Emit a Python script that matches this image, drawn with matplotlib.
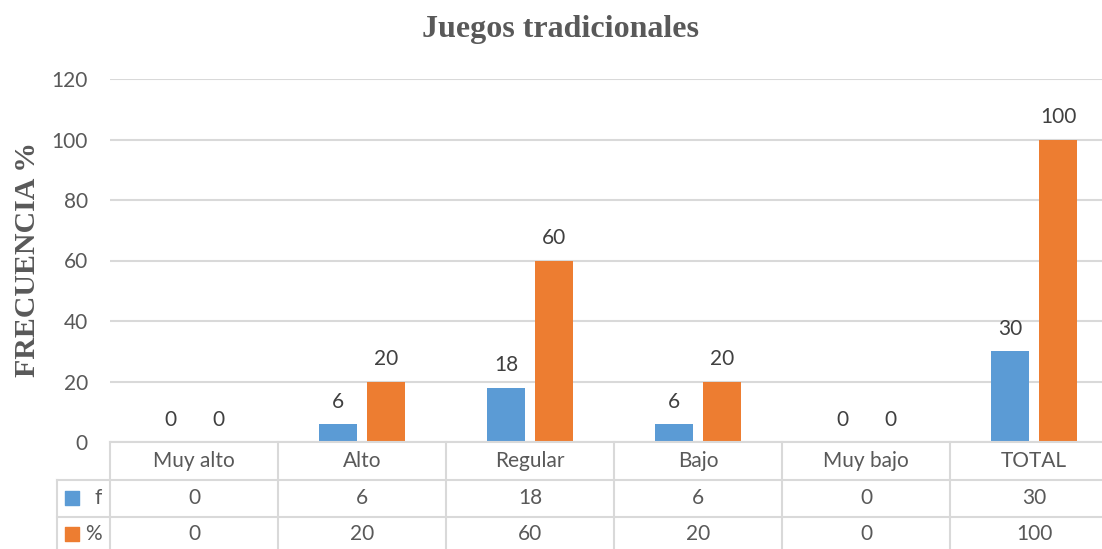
import numpy as np
import matplotlib.pyplot as plt

categories = ["Muy alto", "Alto", "Regular", "Bajo", "Muy bajo", "TOTAL"]
freq = [0, 6, 18, 6, 0, 30]
pct = [0, 20, 60, 20, 0, 100]
series_names = ["f", "%"]
colors = ["#5B9BD5", "#ED7D31"]
text_color = "#595959"
grid_color = "#D9D9D9"

W, H = 1102, 549
fig = plt.figure(figsize=(W / 100, H / 100), dpi=100)
plt.rcParams["font.family"] = ["Lato", "DejaVu Sans"]
fs = 15

# plot area in pixels (the last column runs past the image edge, as in the original)
x0, x1 = 110, 1118
y_top, y_base = 79, 442
ax = fig.add_axes([x0 / W, (H - y_base) / H, (x1 - x0) / W, (y_base - y_top) / H])

x = np.arange(len(categories))
bw = 0.226
off = 0.143
for vals, c, dx in [(freq, colors[0], -off), (pct, colors[1], off)]:
    ax.bar(x + dx, vals, width=bw, color=c, zorder=3)
    for xi, v in zip(x + dx, vals):
        ax.text(xi, v + 4, str(v), ha="center", va="bottom", fontsize=fs, color="#404040")

ax.set_xlim(-0.5, len(categories) - 0.5)
ax.set_ylim(0, 120)
ax.set_yticks(range(0, 121, 20))
ax.yaxis.grid(True, color=grid_color, lw=1.5, zorder=0)
ax.tick_params(axis="y", length=0, labelsize=fs, labelcolor=text_color, pad=16)
ax.set_xticks([])
for s in ax.spines.values():
    s.set_visible(False)

fig.text(560 / W, 1 - 30 / H, "Juegos tradicionales", ha="center", va="center",
         fontsize=23, fontweight="bold", family="Liberation Serif", color=text_color)
fig.text(28 / W, 1 - 260 / H, "FRECUENCIA %", ha="center", va="center", rotation=90,
         fontsize=21.5, fontweight="bold", family="Liberation Serif", color=text_color)

# data table under the plot
tab = fig.add_axes([x0 / W, 0, (x1 - x0) / W, (H - y_base) / H])
tab.set_xlim(-0.5, len(categories) - 0.5)
tab.set_ylim(H, y_base)  # pixel rows, top-down
tab.axis("off")
row_lines = [442, 480, 517]
row_mid = [461, 498.5, 534]
lw = 1.5
px = len(categories) / (x1 - x0)  # data units per pixel
left = -0.5 - (x0 - 57) * px
tab.plot([-0.5, 5.5], [row_lines[0]] * 2, color=grid_color, lw=lw, clip_on=False)
for yl in row_lines[1:]:
    tab.plot([left, 5.5], [yl, yl], color=grid_color, lw=lw, clip_on=False)
tab.plot([left, left], [row_lines[1], H], color=grid_color, lw=lw, clip_on=False)
for i in range(len(categories) + 1):
    tab.plot([i - 0.5, i - 0.5], [row_lines[0], H], color=grid_color, lw=lw, clip_on=False)
for i, cat in enumerate(categories):
    tab.text(i, row_mid[0], cat, ha="center", va="center", fontsize=fs, color=text_color)
    tab.text(i, row_mid[1], str(freq[i]), ha="center", va="center", fontsize=fs, color=text_color)
    tab.text(i, row_mid[2], str(pct[i]), ha="center", va="center", fontsize=fs, color=text_color)
for r, name, c in zip(row_mid[1:], series_names, colors):
    tab.scatter([left + 15 * px], [r], marker="s", s=100, color=c, clip_on=False)
    tab.text(-0.5 - 8 * px, r, name, ha="right", va="center", fontsize=fs, color=text_color)

fig.savefig("out.png", dpi=100)
